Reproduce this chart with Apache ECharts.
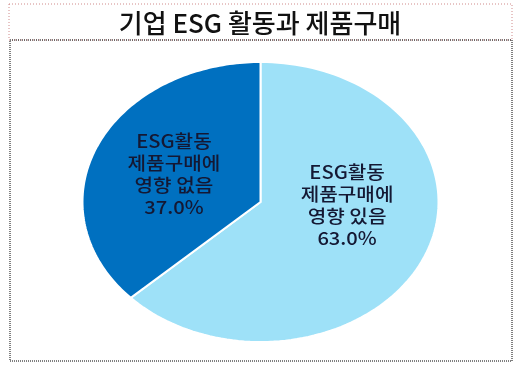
<!DOCTYPE html>
<html>
<head>
<meta charset="utf-8">
<script src="https://cdn.jsdelivr.net/npm/echarts@6/dist/echarts.min.js"></script>
<style>
  html, body { margin: 0; padding: 0; background: #fff; }
  #chart { width: 520px; height: 377px; }
</style>
</head>
<body>
<div id="chart"></div>
<script>
// 데이터
const titleText = '기업 ESG 활동과 제품구매';
const sliceNames = ['ESG활동\n제품구매에\n영향 있음', 'ESG활동\n제품구매에\n영향 없음'];
const sliceShares = [63.0, 37.0];
const sliceColors = ['#9ee1f8', '#0070c0'];

// 타원 파이 배치
const cx = 260.5, cy = 202, rx = 178, ry = 140;
const labelFrac = 0.53;
const labelNudgeY = [-26, 2];
const total = sliceShares.reduce((a, b) => a + b, 0);

const chart = echarts.init(document.getElementById('chart'));

function renderSlice(params, api) {
  const i = params.dataIndex;
  const v = api.value(0);
  let before = 0;
  for (let j = 0; j < i; j++) before += sliceShares[j];
  const a0 = before / total * Math.PI * 2;
  const a1 = (before + v) / total * Math.PI * 2;
  const pts = [[cx, cy]];
  const n = 120;
  for (let k = 0; k <= n; k++) {
    const a = a0 + (a1 - a0) * k / n;
    pts.push([cx + rx * Math.sin(a), cy - ry * Math.cos(a)]);
  }
  const mid = (a0 + a1) / 2;
  const lx = cx + rx * labelFrac * Math.sin(mid);
  const ly = cy - ry * labelFrac * Math.cos(mid) + labelNudgeY[i];
  return {
    type: 'group',
    children: [
      {
        type: 'polygon',
        shape: { points: pts },
        style: { fill: sliceColors[i], stroke: '#ffffff', lineWidth: 2 }
      },
      {
        type: 'text',
        x: lx,
        y: ly,
        scaleX: 1.12,
        style: {
          text: sliceNames[i] + '\n' + v.toFixed(1) + '%',
          x: 0,
          y: 0,
          align: 'center',
          verticalAlign: 'middle',
          fill: '#141833',
          fontFamily: '"Noto Sans CJK KR", sans-serif',
          fontSize: 18,
          fontWeight: 500,
          lineHeight: 22
        }
      }
    ]
  };
}

chart.setOption({
  backgroundColor: '#ffffff',
  animation: false,
  title: {
    text: titleText,
    left: 'center',
    top: 5,
    textStyle: {
      fontFamily: '"Noto Sans CJK KR", sans-serif',
      fontSize: 26,
      fontWeight: 500,
      color: '#111'
    }
  },
  graphic: [
    {
      type: 'rect',
      shape: { x: 9, y: 4, width: 503, height: 36 },
      style: { fill: 'none', stroke: '#d08a8a', lineWidth: 1, lineDash: [1, 2] },
      silent: true
    },
    {
      type: 'rect',
      shape: { x: 10, y: 40, width: 502, height: 321 },
      style: { fill: 'none', stroke: '#000', lineWidth: 1, lineDash: [1, 1] },
      silent: true
    }
  ],
  series: [
    {
      type: 'custom',
      coordinateSystem: 'none',
      renderItem: renderSlice,
      data: sliceShares.map(v => [v])
    }
  ]
});
</script>
</body>
</html>
